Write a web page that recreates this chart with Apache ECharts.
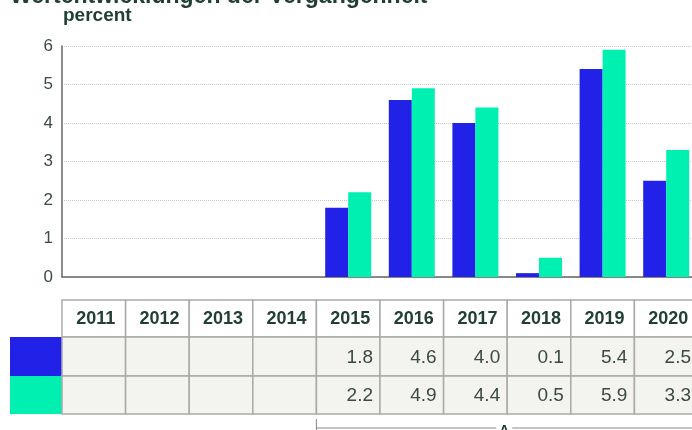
<!DOCTYPE html>
<html>
<head>
<meta charset="utf-8">
<script src="https://cdn.jsdelivr.net/npm/echarts@6/dist/echarts.min.js"></script>
<style>
  html, body { margin: 0; padding: 0; background: #fff; overflow: hidden; }
  #chart { width: 692px; height: 430px; }
</style>
</head>
<body>
<div id="chart"></div>
<script>
const years = ["2011", "2012", "2013", "2014", "2015", "2016", "2017", "2018", "2019", "2020"];
const seriesA = [null, null, null, null, 1.8, 4.6, 4.0, 0.1, 5.4, 2.5];
const seriesB = [null, null, null, null, 2.2, 4.9, 4.4, 0.5, 5.9, 3.3];
const yTicks = [0, 1, 2, 3, 4, 5, 6];

const colorA = "#2121e8";
const colorB = "#00f0b2";
const textDark = "#213f36";
const textBody = "#3b4a44";
const fontFamily = "Liberation Sans, Arial, sans-serif";

const chart = echarts.init(document.getElementById("chart"), null, { renderer: "canvas" });

chart.setOption({
  animation: false,
  textStyle: { fontFamily: fontFamily },
  grid: { left: 62, width: 636, top: 46, height: 231, containLabel: false, outerBoundsMode: "none" },
  xAxis: {
    type: "category",
    data: years,
    axisLine: { lineStyle: { color: "#666", width: 1.5 } },
    axisTick: { show: false },
    axisLabel: { show: false },
  },
  yAxis: {
    type: "value",
    min: yTicks[0],
    max: yTicks[yTicks.length - 1],
    interval: 1,
    axisLine: { show: true, lineStyle: { color: "#666", width: 1.5 } },
    axisTick: { show: false },
    axisLabel: { color: textBody, fontSize: 17, margin: 9 },
    splitLine: { lineStyle: { color: "#c8c8c8", type: [1, 1] } },
  },
  series: [
    { type: "bar", data: seriesA, barWidth: 23, barGap: "0%", itemStyle: { color: colorA } },
    { type: "bar", data: seriesB, barWidth: 23, barGap: "0%", itemStyle: { color: colorB } },
  ],
});

// table below the plot, aligned with the category bands
const rowTop = [300, 337, 376];
const rowH = [37, 39, 38];
const band = chart.getModel().getComponent("xAxis", 0).axis.getBandWidth();
const gfx = [];

gfx.push({
  type: "text",
  style: { x: 10, y: -3, text: "Wertentwicklungen der Vergangenheit", fill: textDark,
    font: "bold 23px " + fontFamily, verticalAlign: "middle" },
});
gfx.push({
  type: "text",
  style: { x: 63, y: 16, text: "percent", fill: textDark,
    font: "bold 19px " + fontFamily, verticalAlign: "middle" },
});

// legend blocks
[colorA, colorB].forEach((c, i) => {
  gfx.push({ type: "rect", shape: { x: 10, y: rowTop[i + 1], width: 52, height: rowH[i + 1] },
    style: { fill: c } });
});

years.forEach((yr, i) => {
  const cx = chart.convertToPixel({ xAxisIndex: 0 }, yr);
  const x0 = cx - band / 2;
  gfx.push({ type: "rect", shape: { x: x0, y: rowTop[0], width: band, height: rowH[0] },
    style: { fill: "#fff", stroke: "#aaa", lineWidth: 1.5 } });
  gfx.push({ type: "text", style: { x: cx + 2, y: rowTop[0] + rowH[0] / 2 + 1, text: yr,
    fill: textDark, font: "bold 18px " + fontFamily, align: "center", verticalAlign: "middle" } });
  [seriesA, seriesB].forEach((s, r) => {
    gfx.push({ type: "rect", shape: { x: x0, y: rowTop[r + 1], width: band, height: rowH[r + 1] },
      style: { fill: "#f3f3ef", stroke: "#aaa", lineWidth: 1.5 } });
    if (s[i] != null) {
      gfx.push({ type: "text", style: { x: x0 + band - 7, y: rowTop[r + 1] + rowH[r + 1] / 2 + 1,
        text: s[i].toFixed(1), fill: textBody, font: "19px " + fontFamily,
        align: "right", verticalAlign: "middle" } });
    }
  });
});

// bracket under the 2015-2020 columns
const bx0 = chart.convertToPixel({ xAxisIndex: 0 }, "2015") - band / 2;
const bx1 = 692;
const bmid = (bx0 + bx1) / 2;
gfx.push({ type: "line", shape: { x1: bx0, y1: 428, x2: bmid - 8, y2: 428 }, style: { stroke: "#888", lineWidth: 1 } });
gfx.push({ type: "line", shape: { x1: bmid + 8, y1: 428, x2: bx1, y2: 428 }, style: { stroke: "#888", lineWidth: 1 } });
gfx.push({ type: "line", shape: { x1: bx0, y1: 419, x2: bx0, y2: 432 }, style: { stroke: "#888", lineWidth: 1 } });
gfx.push({ type: "text", style: { x: bmid, y: 424, text: "A", fill: textDark,
  font: "bold 14px " + fontFamily, align: "center", verticalAlign: "top" } });

chart.setOption({ graphic: gfx });
</script>
</body>
</html>
